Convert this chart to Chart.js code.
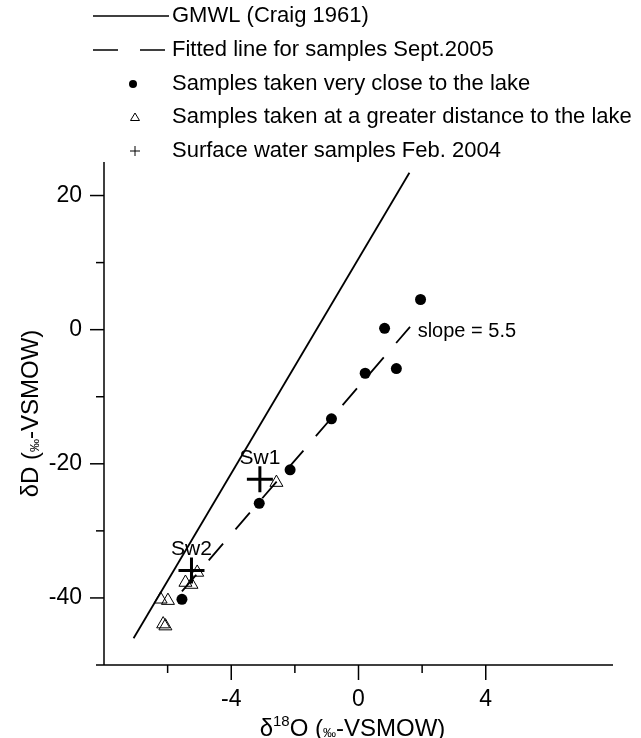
<!DOCTYPE html>
<html>
<head>
<meta charset="utf-8">
<script src="https://cdn.jsdelivr.net/npm/chart.js@4.4.0/dist/chart.umd.min.js"></script>
<style>
  html, body { margin: 0; padding: 0; background: #fff; }
  #wrap { width: 641px; height: 738px; }
</style>
</head>
<body>
<div id="wrap"><canvas id="chart" width="641" height="738"></canvas></div>
<script>
// d18O / dD values (permil VSMOW)
var closeO = [1.95, 0.82, 0.21, 1.19, -0.85, -2.15, -3.12, -5.55];
var closeD = [4.5, 0.2, -6.5, -5.8, -13.3, -20.9, -25.9, -40.2];

var farO = [-2.58, -5.07, -5.44, -5.25, -6.22, -5.99, -6.14, -6.07];
var farD = [-22.8, -36.2, -37.7, -38.0, -40.2, -40.4, -43.9, -44.2];

var surfNames = ['Sw1', 'Sw2'];
var surfO = [-3.10, -5.25];
var surfD = [-22.3, -35.9];

// GMWL segment ends
var gmwlO = [-7.07, 1.6];
var gmwlD = [-46.0, 23.4];

// fitted line: slope 5.5
var fitSlope = 5.5;
var fitIntercept = -8.5;
var fitO = [-5.55, 1.62];

var xTicks = [-6, -4, -2, 0, 2, 4];
var xLabels = [-4, 0, 4];
var yTicks = [-40, -30, -20, -10, 0, 10, 20];
var yLabels = [-40, -20, 0, 20];

var legendText = [
  'GMWL (Craig 1961)',
  'Fitted line for samples Sept.2005',
  'Samples taken very close to the lake',
  'Samples taken at a greater distance to the lake',
  'Surface water samples Feb. 2004'
];

function pts(xs, ys) {
  return xs.map(function(x, i) { return { x: x, y: ys[i] }; });
}

var FONT = '"Liberation Sans", Arial, sans-serif';

// axis title made of pieces: lead text, optional superscript, per mille sign
function title(c, cx, cy, lead, sup) {
  var big = '24px ' + FONT;
  var parts = [{ t: lead, f: big, dy: 0 }];
  if (sup) {
    parts.push({ t: sup, f: '15px ' + FONT, dy: -10 });
    parts.push({ t: 'O', f: big, dy: 0 });
  }
  parts.push({ t: ' (', f: big, dy: 0 });
  parts.push({ t: '\u2030', f: '13px ' + FONT, dy: 1 });
  parts.push({ t: '-VSMOW)', f: big, dy: 0 });
  var w = 0;
  parts.forEach(function(p) { c.font = p.f; p.w = c.measureText(p.t).width; w += p.w; });
  var x = cx - w / 2;
  c.textAlign = 'left';
  c.textBaseline = 'alphabetic';
  parts.forEach(function(p) {
    c.font = p.f;
    c.fillText(p.t, x, cy + p.dy);
    x += p.w;
  });
}

// tick marks, labels, titles and annotations
var decor = {
  id: 'decor',
  afterDraw: function(chart) {
    var ctx = chart.ctx;
    var xs = chart.scales.x, ys = chart.scales.y;
    var area = chart.chartArea;
    ctx.save();
    ctx.strokeStyle = '#000';
    ctx.fillStyle = '#000';
    ctx.lineWidth = 1.5;

    // axes
    ctx.beginPath();
    ctx.moveTo(area.left, area.top);
    ctx.lineTo(area.left, area.bottom);
    ctx.moveTo(area.left - 8, area.bottom);
    ctx.lineTo(area.right, area.bottom);
    ctx.stroke();

    // x ticks
    ctx.font = '23px ' + FONT;
    ctx.textAlign = 'center';
    ctx.textBaseline = 'top';
    xTicks.forEach(function(v) {
      var px = xs.getPixelForValue(v);
      var major = xLabels.indexOf(v) >= 0;
      ctx.beginPath();
      ctx.moveTo(px, area.bottom);
      ctx.lineTo(px, area.bottom + (major ? 15 : 8));
      ctx.stroke();
      if (major) ctx.fillText(String(v), px, area.bottom + 23);
    });

    // y ticks
    ctx.textAlign = 'right';
    ctx.textBaseline = 'middle';
    yTicks.forEach(function(v) {
      var py = ys.getPixelForValue(v);
      var major = yLabels.indexOf(v) >= 0;
      ctx.beginPath();
      ctx.moveTo(area.left, py);
      ctx.lineTo(area.left - (major ? 14 : 8), py);
      ctx.stroke();
      if (major) ctx.fillText(String(v), area.left - 22, py);
    });

    title(ctx, (area.left + area.right) / 2 - 6, 736, '\u03b4', '18');

    ctx.save();
    ctx.translate(38, (area.top + area.bottom) / 2);
    ctx.rotate(-Math.PI / 2);
    title(ctx, 0, 0, '\u03b4D', null);
    ctx.restore();

    // sample labels above the surface water crosses
    ctx.font = '21px ' + FONT;
    ctx.textAlign = 'center';
    ctx.textBaseline = 'middle';
    surfNames.forEach(function(n, i) {
      ctx.fillText(n, xs.getPixelForValue(surfO[i]), ys.getPixelForValue(surfD[i]) - 21);
    });

    // slope annotation
    ctx.font = '20px ' + FONT;
    ctx.textAlign = 'left';
    ctx.fillText('slope = ' + fitSlope, xs.getPixelForValue(1.86), ys.getPixelForValue(-0.3));

    // legend
    var lx = 93, tx = 172;
    var rows = [16, 50, 84, 117, 151];
    ctx.font = '22px ' + FONT;
    ctx.textBaseline = 'middle';
    legendText.forEach(function(t, i) {
      ctx.fillText(t, tx, rows[i]);
    });
    ctx.lineWidth = 1.6;
    ctx.beginPath();
    ctx.moveTo(lx, rows[0]); ctx.lineTo(169, rows[0]);
    ctx.stroke();
    ctx.setLineDash([25, 22]);
    ctx.beginPath();
    ctx.moveTo(lx, rows[1]); ctx.lineTo(169, rows[1]);
    ctx.stroke();
    ctx.setLineDash([]);
    ctx.beginPath();
    ctx.arc(133, rows[2], 4, 0, Math.PI * 2);
    ctx.fill();
    ctx.lineWidth = 1;
    ctx.beginPath();
    ctx.moveTo(135, rows[3] - 4); ctx.lineTo(139.5, rows[3] + 3.5); ctx.lineTo(130.5, rows[3] + 3.5);
    ctx.closePath();
    ctx.stroke();
    ctx.beginPath();
    ctx.moveTo(130, rows[4]); ctx.lineTo(140, rows[4]);
    ctx.moveTo(135, rows[4] - 5); ctx.lineTo(135, rows[4] + 5);
    ctx.stroke();
    ctx.restore();
  }
};

var fitPts = fitO.map(function(x) { return { x: x, y: fitSlope * x + fitIntercept }; });

new Chart(document.getElementById('chart'), {
  type: 'scatter',
  data: {
    datasets: [
      {
        label: legendText[0],
        data: pts(gmwlO, gmwlD),
        showLine: true,
        borderColor: '#000',
        borderWidth: 1.8,
        pointRadius: 0
      },
      {
        label: legendText[1],
        data: fitPts,
        showLine: true,
        borderColor: '#000',
        borderWidth: 1.8,
        borderDash: [22, 19],
        pointRadius: 0
      },
      {
        label: legendText[2],
        data: pts(closeO, closeD),
        pointStyle: 'circle',
        pointRadius: 5.5,
        backgroundColor: '#000',
        borderColor: '#000',
        borderWidth: 0
      },
      {
        label: legendText[3],
        data: pts(farO, farD),
        pointStyle: 'triangle',
        pointRadius: 7.5,
        backgroundColor: 'rgba(0,0,0,0)',
        borderColor: '#000',
        borderWidth: 1
      },
      {
        label: legendText[4],
        data: pts(surfO, surfD),
        pointStyle: 'cross',
        pointRadius: 13,
        borderColor: '#000',
        borderWidth: 3
      }
    ]
  },
  options: {
    responsive: false,
    animation: false,
    events: [],
    layout: { padding: { top: 162, right: 28, left: 0, bottom: 0 } },
    plugins: {
      legend: { display: false },
      tooltip: { enabled: false }
    },
    scales: {
      x: {
        type: 'linear',
        min: -8,
        max: 8,
        grid: { display: false },
        border: { display: false },
        ticks: { display: false },
        afterFit: function(s) { s.height = 73; }
      },
      y: {
        type: 'linear',
        min: -50,
        max: 25,
        grid: { display: false },
        border: { display: false },
        ticks: { display: false },
        afterFit: function(s) { s.width = 104; }
      }
    }
  },
  plugins: [decor]
});
</script>
</body>
</html>
